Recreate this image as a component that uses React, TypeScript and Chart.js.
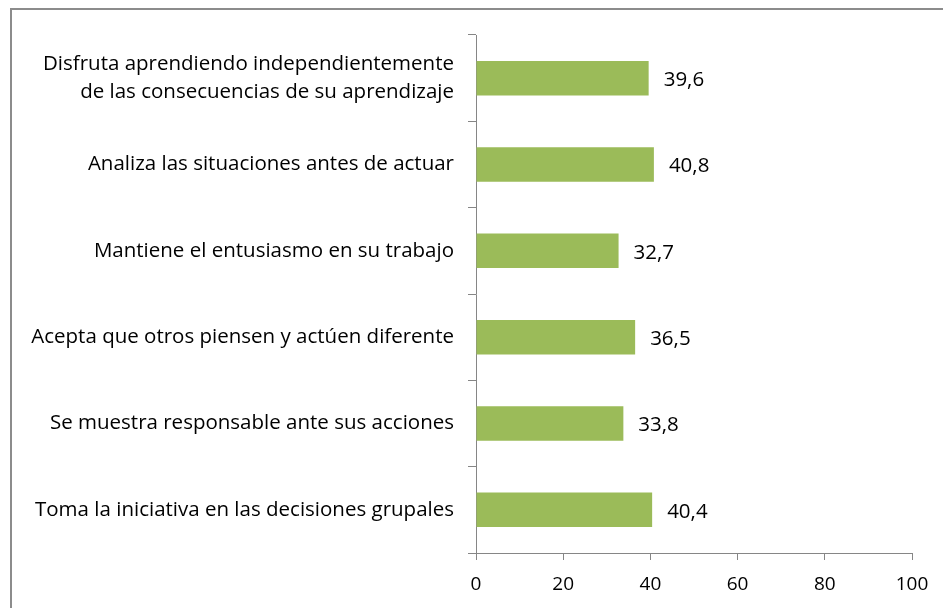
import React, { useEffect, useRef } from "react";
import { Chart, registerables } from "chart.js";

Chart.register(...registerables);

const categories: (string | string[])[] = [
  ["Disfruta aprendiendo independientemente", "de las consecuencias de su aprendizaje"],
  "Analiza las situaciones antes de actuar",
  "Mantiene el entusiasmo en su trabajo",
  "Acepta que otros piensen y actúen diferente",
  "Se muestra responsable ante sus acciones",
  "Toma la iniciativa en las decisiones grupales",
];
const values = [39.6, 40.8, 32.7, 36.5, 33.8, 40.4];
const valueLabels = ["39,6", "40,8", "32,7", "36,5", "33,8", "40,4"];
const xTicks = [0, 20, 40, 60, 80, 100];

const FONT = "'Open Sans', 'Liberation Sans', sans-serif";

export default function App() {
  const ref = useRef<HTMLCanvasElement | null>(null);
  useEffect(() => {
    document.body.style.margin = "0";
    const ctx = ref.current!;
    const labelPlugin = {
      id: "valueLabels",
      afterDatasetsDraw(chart: any) {
        const c = chart.ctx;
        const meta = chart.getDatasetMeta(0);
        c.save();
        c.font = `20.5px ${FONT}`;
        c.fillStyle = "#000";
        c.textAlign = "left";
        c.textBaseline = "middle";
        meta.data.forEach((el: any, i: number) => {
          c.fillText(valueLabels[i], el.x + 15, el.y + 2);
        });
        c.restore();
      },
    };
    const chart = new Chart(ctx, {
      type: "bar",
      data: {
        labels: categories,
        datasets: [
          {
            data: values,
            backgroundColor: "#9BBB59",
            borderWidth: 0,
            barPercentage: 0.4,
            categoryPercentage: 1,
          },
        ],
      },
      options: {
        indexAxis: "y",
        animation: false,
        responsive: false,
        maintainAspectRatio: false,
        layout: { padding: { top: 35, right: 31, left: 0, bottom: 0 } },
        plugins: { legend: { display: false }, tooltip: { enabled: false } },
        scales: {
          x: {
            min: 0,
            max: 100,
            afterBuildTicks(scale: any) {
              scale.ticks = xTicks.map((v) => ({ value: v }));
            },
            afterFit(scale: any) {
              scale.height = 55;
            },
            grid: {
              drawOnChartArea: false,
              color: "#868686",
              tickLength: 7,
            },
            border: { display: true, color: "#868686", width: 1 },
            ticks: {
              color: "#000",
              font: { family: FONT, size: 19 },
              padding: 13,
            },
          },
          y: {
            afterFit(scale: any) {
              scale.width = 476;
            },
            grid: {
              drawOnChartArea: false,
              color: "#868686",
              tickLength: 8,
              offset: true,
            },
            border: { display: true, color: "#868686", width: 1 },
            ticks: {
              color: "#000",
              font: { family: FONT, size: 20.5, lineHeight: 1.37 },
              padding: 14,
            },
          },
        },
      },
      plugins: [labelPlugin],
    });
    return () => chart.destroy();
  }, []);
  return (
    <div style={{ position: "relative", width: 943, height: 608, overflow: "hidden", background: "#fff" }}>
      <div
        style={{
          position: "absolute",
          left: 10,
          top: 8,
          width: 1000,
          height: 700,
          border: "2px solid #8c8c8c",
          boxSizing: "border-box",
        }}
      />
      <canvas ref={ref} width={943} height={608} style={{ position: "absolute", left: 0, top: 0 }} />
    </div>
  );
}
